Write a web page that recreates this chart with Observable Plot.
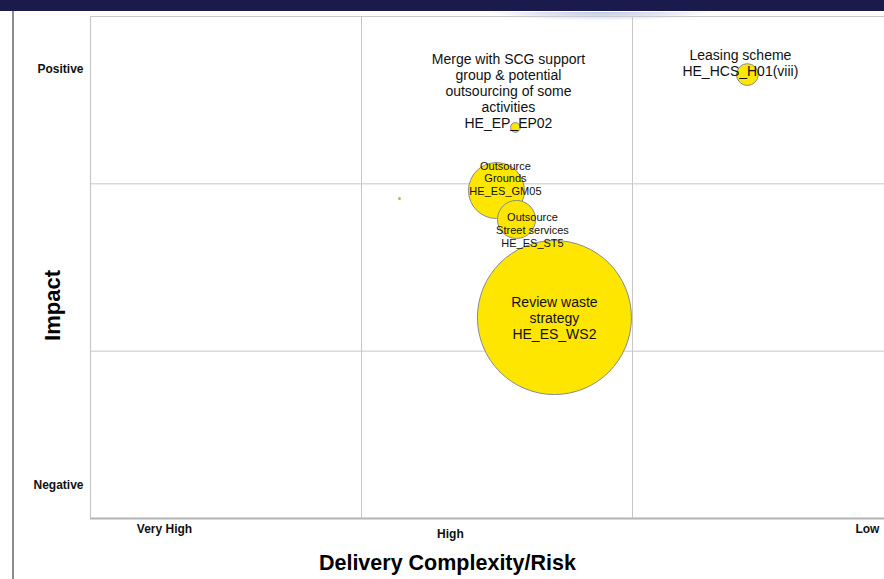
<!DOCTYPE html>
<html>
<head>
<meta charset="utf-8">
<script src="https://cdn.jsdelivr.net/npm/d3@7"></script>
<script src="https://cdn.jsdelivr.net/npm/@observablehq/plot@0.6"></script>
<style>
  html, body { margin: 0; padding: 0; background: #fff; }
  #wrap { position: relative; width: 884px; height: 579px; overflow: hidden; font-family: "Liberation Sans", Arial, sans-serif; }
  #chart svg { display: block; background: transparent; }
  .band { position: absolute; left: 0; top: 0; width: 884px; height: 11px; background: #1b1a4d; }
  .shade { position: absolute; left: 487px; top: 12px; width: 226px; height: 9px; border-radius: 0 0 50% 50%;
           background: radial-gradient(ellipse 50% 100% at 50% 0%, rgba(178,186,214,0.8) 0%, rgba(200,206,226,0.55) 55%, rgba(230,233,242,0) 100%); }
  .edge { position: absolute; left: 12px; top: 11px; width: 2px; height: 568px; background: #8c8c8c; }
</style>
</head>
<body>
<div id="wrap">
  <div id="chart"></div>
  <div class="band"></div>
  <div class="shade"></div>
  <div class="edge"></div>
</div>
<script>
// Savings proposals: delivery complexity (0 = very high, 3 = low) vs impact (0 = negative, 3 = positive)
const codes = ["HE_ES_WS2", "HE_ES_GM05", "HE_ES_ST5", "HE_HCS_H01(viii)", "HE_EP_EP02"];
const descriptions = [
  "Review waste\nstrategy",
  "Outsource\nGrounds",
  "Outsource\nStreet services",
  "Leasing scheme",
  "Merge with SCG support\ngroup & potential\noutsourcing of some\nactivities"
];
const complexity = [1.712, 1.498, 1.572, 2.424, 1.568];
const impact = [1.201, 1.960, 1.787, 2.653, 2.337];
const saving = [1000, 132, 61, 20, 4];

// second series: a single small point
const otherComplexity = [1.14];
const otherImpact = [1.912];
const otherSaving = [0.4];

// quadrant tick labels
const yTickLabels = ["Positive", "Negative"];
const yTickAt = [2.683, 0.197];
const xTickLabels = ["Very High", "High", "Low"];
const xTickAt = [0.273, 1.328, 2.867];
const xTickRow = [-0.066, -0.096, -0.066];

const proposals = codes.map((code, i) => ({
  code,
  label: descriptions[i] + "\n" + code,
  complexity: complexity[i],
  impact: impact[i],
  saving: saving[i]
}));
const others = otherComplexity.map((c, i) => ({complexity: c, impact: otherImpact[i], saving: otherSaving[i]}));

// label block offsets (px) and sizes for each bubble
const labelStyle = {
  "HE_ES_WS2": {dx: 0, dy: 0, size: 14},
  "HE_ES_GM05": {dx: 9, dy: -12.5, size: 11},
  "HE_ES_ST5": {dx: 16, dy: 10.5, size: 11},
  "HE_HCS_H01(viii)": {dx: -7, dy: -11.5, size: 14},
  "HE_EP_EP02": {dx: -7, dy: -36.5, size: 14}
};

const font = "'Liberation Sans', Arial, sans-serif";

const chart = Plot.plot({
  width: 884,
  height: 579,
  marginLeft: 90,
  marginTop: 16,
  marginRight: 0,
  marginBottom: 61,
  style: {fontFamily: font, background: "transparent"},
  x: {domain: [0, 2.93], axis: null},
  y: {domain: [0, 3], axis: null},
  r: {type: "sqrt", domain: [0, 1000], range: [0, 77]},
  marks: [
    Plot.ruleX([1, 2], {stroke: "#c6c6c6", strokeWidth: 1}),
    Plot.ruleY([1, 2], {stroke: "#c6c6c6", strokeWidth: 1}),
    Plot.ruleY([3], {stroke: "#c8c8c8", strokeWidth: 1.2}),
    Plot.ruleX([0], {stroke: "#c8c8c8", strokeWidth: 1.2}),
    Plot.ruleY([0], {stroke: "#b4b4b4", strokeWidth: 2}),
    Plot.dot(others, {x: "complexity", y: "impact", r: 1.5, fill: "#8fd14f", stroke: "none"}),
    Plot.dot(proposals, {
      x: "complexity", y: "impact", r: "saving",
      fill: "#ffe600", stroke: "#8a8a8a", strokeWidth: 1,
      sort: {channel: "r", order: "descending"}
    }),
    ...proposals.map(p => Plot.text([p], {
      x: "complexity", y: "impact", text: "label",
      dx: labelStyle[p.code].dx, dy: labelStyle[p.code].dy,
      fontSize: labelStyle[p.code].size, lineHeight: 1.14,
      fill: "#111", textAnchor: "middle", lineAnchor: "middle"
    })),
    Plot.text(yTickLabels, {
      y: (d, i) => yTickAt[i], frameAnchor: "left", dx: -7,
      text: d => d, textAnchor: "end", fontWeight: "bold", fontSize: 12, fill: "#111"
    }),
    Plot.text(xTickLabels, {
      x: (d, i) => xTickAt[i], y: (d, i) => xTickRow[i],
      text: d => d, textAnchor: "middle", fontWeight: "bold", fontSize: 12, fill: "#111"
    }),
    Plot.text(["Impact"], {
      x: -0.14, y: 1.273, text: d => d, rotate: -90,
      fontWeight: "bold", fontSize: 22, fill: "#000"
    }),
    Plot.text(["Delivery Complexity/Risk"], {
      x: 1.317, y: -0.269, text: d => d,
      fontWeight: "bold", fontSize: 21.5, fill: "#000"
    })
  ]
});

document.getElementById("chart").appendChild(chart);
</script>
</body>
</html>
